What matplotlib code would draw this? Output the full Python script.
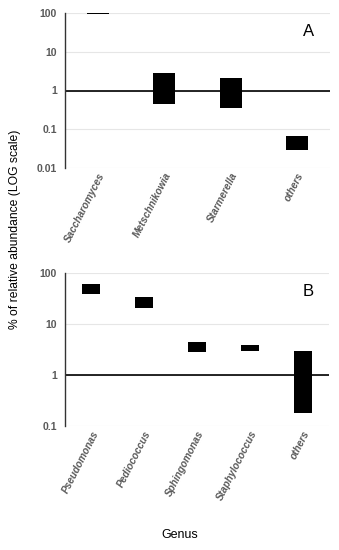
import numpy as np
from matplotlib import pyplot as plt

plt.rcParams['font.family'] = ['Liberation Sans', 'DejaVu Sans']

# panel A - yeasts
genus_a = ["Saccharomyces", "Metschnikowia", "Starmerella", "others"]
low_a = [93, 0.46, 0.36, 0.029]
high_a = [100, 2.9, 2.15, 0.068]

# panel B - bacteria
genus_b = ["Pseudomonas", "Pediococcus", "Sphingomonas", "Staphylococcus", "others"]
low_b = [38, 20, 2.8, 3.0, 0.18]
high_b = [60, 33, 4.5, 3.9, 3.0]

grey = "#595959"

fig = plt.figure(figsize=(3.39, 5.5), dpi=100)
axA = fig.add_axes([65/339, 382/550, 265/339, 155/550])
axB = fig.add_axes([65/339, 124/550, 264/339, 153.3/550])


def panel(ax, names, low, high, ymin, letter, width):
    x = np.arange(len(names))
    ax.set_yscale("log")
    ax.set_ylim(ymin, 100)
    ax.set_xlim(-0.5, len(names) - 0.5)
    ax.grid(axis="y", color="#e6e6e6", linewidth=0.8)
    ax.set_axisbelow(True)
    ax.axhline(1, color="black", linewidth=1.2, zorder=1)
    heights = np.array(high) - np.array(low)
    ax.bar(x, heights, bottom=low, width=width, color="black", zorder=2)
    for s in ["top", "right", "bottom"]:
        ax.spines[s].set_visible(False)
    ax.spines["left"].set_color("#333333")
    ax.spines["left"].set_linewidth(1.0)
    ax.minorticks_off()
    ax.tick_params(axis="y", length=0, labelsize=7.5, labelcolor=grey, pad=6)
    ax.tick_params(axis="x", length=0, pad=2)
    ticks = [10.0**k for k in range(int(np.log10(ymin)), 3)]
    ax.set_yticks(ticks)
    ax.set_yticklabels(["%g" % t for t in ticks], fontweight="bold")
    ax.set_xticks(x)
    ax.set_xticklabels(names, rotation=63, ha="right", rotation_mode="anchor",
                       fontsize=7.2, fontstyle="italic", fontweight="bold",
                       color=grey)
    ax.text(0.92, 0.88, letter, transform=ax.transAxes, fontsize=12,
            ha="center", va="center")


panel(axA, genus_a, low_a, high_a, 0.01, "A", 0.33)
panel(axB, genus_b, low_b, high_b, 0.1, "B", 0.34)

fig.text(15/339, 1 - 229/550, "% of relative abundance (LOG scale)", rotation=90,
         ha="center", va="center", fontsize=8.7)
fig.text(180/339, 1 - 535/550, "Genus", ha="center", va="center", fontsize=9)

plt.savefig("out.png", dpi=100)
